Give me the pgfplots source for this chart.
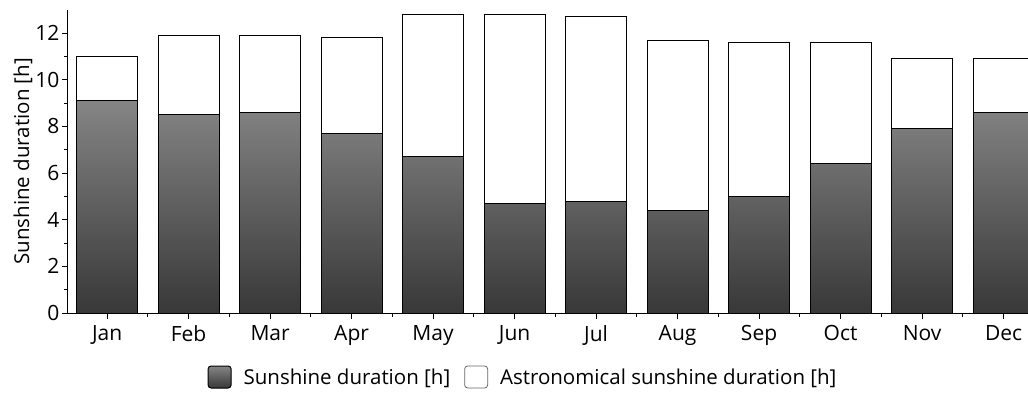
\documentclass[border=0pt]{standalone}
\usepackage{fontspec}
\setmainfont{Open Sans}
\usepackage{pgfplots}
\pgfplotsset{compat=1.18}
\begin{document}
\begin{tikzpicture}[x=1pt,y=1pt]
\begin{axis}[
  at={(0,0)}, anchor=south west,
  scale only axis,
  width=960pt, height=303.3pt,
  xmin=-0.48, xmax=11.3,
  ymin=0, ymax=13,
  axis lines=left,
  axis line style={-, black, line width=1pt},
  xtick={0,...,11},
  xticklabels={Jan,Feb,Mar,Apr,May,Jun,Jul,Aug,Sep,Oct,Nov,Dec},
  minor xtick={0.5,1.5,...,10.5},
  ytick={0,2,...,12},
  minor ytick={1,3,...,11},
  tick align=outside,
  major tick length=6pt, minor tick length=4pt,
  tick style={black, line width=1pt},
  tick label style={font=\fontsize{21}{24}\selectfont},
  /pgf/number format/assume math mode=true,
  xticklabel style={yshift=-3pt},
  yticklabel style={xshift=1pt},
  ylabel={Sunshine duration [h]},
  ylabel style={font=\fontsize{20.5}{24}\selectfont, at={(axis description cs:-0.047,0.5)}, anchor=center},
  legend style={at={(axis description cs:0.474,-0.211)}, anchor=center, draw=none, fill=none, legend columns=2,
    font=\fontsize{20.5}{24}\selectfont,
    /tikz/every odd column/.append style={column sep=10pt},
    /tikz/every even column/.append style={column sep=12pt}},
  legend image code/.code={\draw[#1, rounded corners=3pt] (0pt,-11pt) rectangle (23pt,11pt);},
]
\addplot[ybar, bar width=0.75, bar shift=0, fill=white, draw=black, line width=1pt, forget plot]
  coordinates {(0,11.0) (1,11.9) (2,11.9) (3,11.8) (4,12.8) (5,12.8) (6,12.7) (7,11.7) (8,11.6) (9,11.6) (10,10.9) (11,10.9)};
\addplot[ybar, bar width=0.75, bar shift=0, top color=black!48, bottom color=black!78, draw=black, line width=1pt]
  coordinates {(0,9.1) (1,8.5) (2,8.6) (3,7.7) (4,6.7) (5,4.7) (6,4.8) (7,4.4) (8,5.0) (9,6.4) (10,7.9) (11,8.6)};
\addlegendentry{Sunshine duration [h]}
\addlegendimage{fill=white, draw=black!60, line width=0.8pt}
\addlegendentry{Astronomical sunshine duration [h]}
\end{axis}
\pgfresetboundingbox
\useasboundingbox (-68,-87) rectangle (960,313);
\end{tikzpicture}
\end{document}
